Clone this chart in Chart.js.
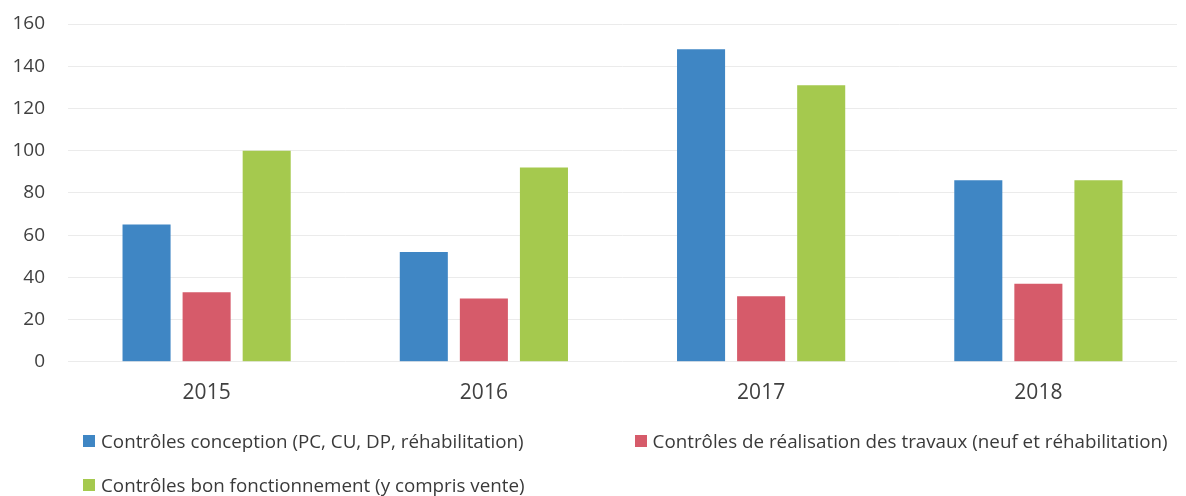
<!DOCTYPE html>
<html>
<head>
<meta charset="utf-8">
<script src="https://cdn.jsdelivr.net/npm/chart.js@4.4.0/dist/chart.umd.min.js"></script>
<style>
  html, body { margin: 0; padding: 0; background: #fff; }
  body { width: 1186px; height: 496px; position: relative; overflow: hidden; font-family: "Open Sans", sans-serif; }
  #wrap { position: absolute; left: 0; top: 0; width: 1186px; height: 434px; }
  #legend { position: absolute; left: 83px; top: 428px; width: 1100px; display: flex; flex-wrap: wrap; column-gap: 111px; row-gap: 18px; }
  .item { display: flex; align-items: center; font-size: 18.8px; color: #3a3a3a; line-height: 26px; white-space: nowrap; }
  .box { width: 12px; height: 12px; margin-right: 6px; }
</style>
</head>
<body>
<div id="wrap"><canvas id="c"></canvas></div>
<div id="legend"></div>
<script>
const categories = ["2015", "2016", "2017", "2018"];
const seriesNames = [
  "Contrôles conception (PC, CU, DP, réhabilitation)",
  "Contrôles de réalisation des travaux (neuf et réhabilitation)",
  "Contrôles bon fonctionnement (y compris vente)"
];
const conception = [65, 52, 148, 86];
const realisation = [33, 30, 31, 37];
const fonctionnement = [100, 92, 131, 86];
const colors = ["#3f86c4", "#d65b6a", "#a5c94e"];
const yTicks = [0, 20, 40, 60, 80, 100, 120, 140, 160];

const seriesValues = [conception, realisation, fonctionnement];

new Chart(document.getElementById("c"), {
  type: "bar",
  data: {
    labels: categories,
    datasets: seriesValues.map((v, i) => ({
      label: seriesNames[i],
      data: v,
      backgroundColor: colors[i],
      borderWidth: 0,
      categoryPercentage: 0.65,
      barPercentage: 0.8
    }))
  },
  options: {
    responsive: true,
    maintainAspectRatio: false,
    animation: false,
    layout: { padding: { top: 24, right: 9, bottom: 9, left: 0 } },
    plugins: { legend: { display: false }, tooltip: { enabled: false } },
    scales: {
      x: {
        grid: { display: false, drawTicks: false },
        border: { display: false },
        ticks: { padding: 19, color: "#404040", font: { family: "Open Sans", size: 21 } }
      },
      y: {
        min: 0, max: 160,
        afterBuildTicks: (s) => { s.ticks = yTicks.map(v => ({ value: v })); },
        afterFit: (s) => { s.width = 68; s.paddingTop = 0; s.paddingBottom = 0; },
        grid: { color: "#ebebeb", lineWidth: 1, drawTicks: false },
        border: { display: false },
        ticks: { padding: 23, color: "#404040", font: { family: "Open Sans", size: 19 } }
      }
    }
  }
});

const legend = document.getElementById("legend");
seriesNames.forEach((n, i) => {
  const it = document.createElement("div");
  it.className = "item";
  const b = document.createElement("span");
  b.className = "box";
  b.style.background = colors[i];
  const t = document.createElement("span");
  t.textContent = n;
  it.appendChild(b); it.appendChild(t);
  legend.appendChild(it);
});
</script>
</body>
</html>
